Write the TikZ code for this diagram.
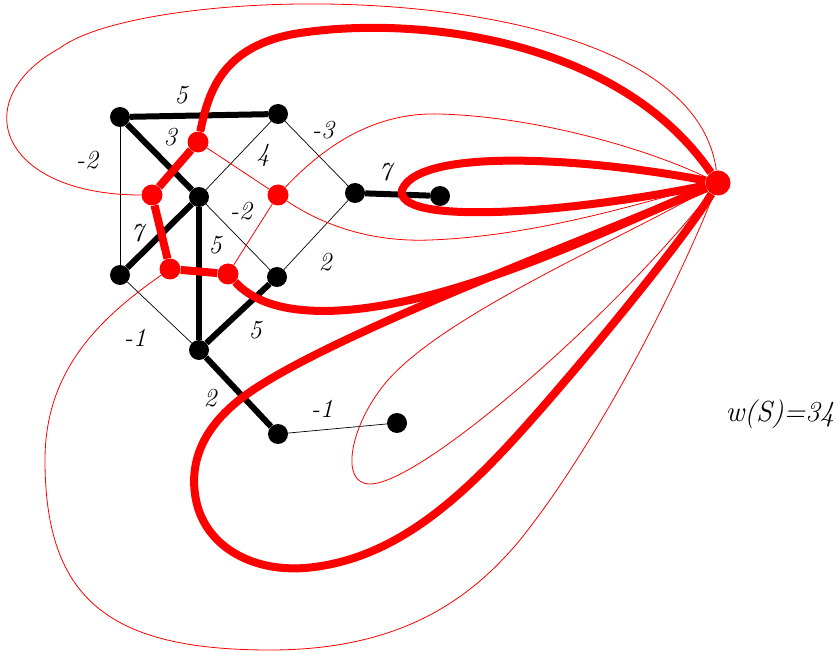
\documentclass[tikz,border=0pt]{standalone}
\usepackage{fontspec}
\begin{document}
\begin{tikzpicture}[x=1pt,y=-1pt,
  bdot/.style={circle,fill=black,inner sep=0pt,minimum size=20pt},
  rdot/.style={circle,fill=red,inner sep=0pt,minimum size=21pt},
  qdot/.style={circle,fill=red,inner sep=0pt,minimum size=25pt},
  bthick/.style={line width=6pt,black},
  bthin/.style={line width=0.7pt,black},
  rthick/.style={line width=8pt,red},
  rthin/.style={line width=0.8pt,red},
  lbl/.style={font=\fontsize{26}{28}\selectfont\itshape,inner sep=0pt}]
\useasboundingbox (0,0) rectangle (838,652);
% primal vertices
\node[bdot] (A) at (120,117) {};
\node[bdot] (B) at (278,114) {};
\node[bdot] (C) at (199,197) {};
\node[bdot] (D) at (355,193) {};
\node[bdot] (E) at (440,196) {};
\node[bdot] (F) at (120,275) {};
\node[bdot] (G) at (277,277) {};
\node[bdot] (H) at (199,350) {};
\node[bdot] (I) at (278,434) {};
\node[bdot] (J) at (397,423) {};
% dual vertices
\node[rdot] (P1) at (198,142) {};
\node[rdot] (P2) at (152,195) {};
\node[rdot] (P3) at (170,269) {};
\node[rdot] (P4) at (228,274) {};
\node[rdot] (P5) at (278,195) {};
\node[qdot] (Q) at (718,183) {};
% primal edges
\draw[bthick] (A) -- (B);
\draw[bthick] (A) -- (C);
\draw[bthin] (A) -- (F);
\draw[bthin] (B) -- (C);
\draw[bthin] (B) -- (D);
\draw[bthick] (D) -- (E);
\draw[bthin] (D) -- (G);
\draw[bthick] (C) -- (F);
\draw[bthin] (C) -- (G);
\draw[bthick] (C) -- (H);
\draw[bthick] (G) -- (H);
\draw[bthin] (F) -- (H);
\draw[bthick] (H) -- (I);
\draw[bthin] (I) -- (J);
% dual edges
\draw[rthick] (P1) -- (P2);
\draw[rthick] (P2) -- (P3);
\draw[rthick] (P3) -- (P4);
\draw[rthin] (P1) -- (P5);
\draw[rthin] (P5) -- (P4);
\draw[rthick] (P1) .. controls (208,95) and (220,45) .. (300,33)
  .. controls (420,15) and (620,40) .. (Q);
\draw[rthin] (P2) .. controls (0,195) and (-35,100) .. (60,48)
  .. controls (150,-20) and (690,-30) .. (Q);
\draw[rthin] (P5) .. controls (330,140) and (380,112) .. (440,114)
  .. controls (540,117) and (650,150) .. (Q);
\draw[rthin] (P5) .. controls (330,230) and (380,242) .. (430,240)
  .. controls (540,236) and (650,200) .. (Q);
\draw[rthick] (Q) .. controls (600,160) and (420,145) .. (402,190)
  .. controls (395,225) and (560,215) .. (Q);
\draw[rthick] (P4) .. controls (265,315) and (330,318) .. (410,300)
  .. controls (520,275) and (640,215) .. (Q);
\draw[rthick] (Q) .. controls (600,235) and (340,330) .. (250,392)
  .. controls (205,423) and (188,460) .. (196,500)
  .. controls (205,545) and (250,572) .. (305,568)
  .. controls (400,560) and (470,490) .. (540,410)
  .. controls (610,330) and (690,230) .. (Q);
\draw[rthin] (Q) .. controls (620,240) and (430,320) .. (380,390)
  .. controls (350,430) and (340,484) .. (370,484)
  .. controls (420,484) and (610,320) .. (Q);
\draw[rthin] (P3) .. controls (100,318) and (45,370) .. (45,460)
  .. controls (45,600) and (110,650) .. (270,650)
  .. controls (400,650) and (470,600) .. (520,540)
  .. controls (600,440) and (680,280) .. (Q);
% labels
\node[lbl] (l1) at (181,95) {5};
\node[lbl] (l2) at (170,137) {3};
\node[lbl] (l3) at (87,160) {-2};
\node[lbl] (l4) at (263,155) {4};
\node[lbl] (l5) at (323,130) {-3};
\node[lbl] (l6) at (385,172) {7};
\node[lbl] (l7) at (241,211) {-2};
\node[lbl] (l8) at (137,233) {7};
\node[lbl] (l9) at (215,245) {5};
\node[lbl] (l10) at (325,262) {2};
\node[lbl] (l11) at (135,338) {-1};
\node[lbl] (l12) at (255,330) {5};
\node[lbl] (l13) at (210,398) {2};
\node[lbl] (l14) at (322,409) {-1};
\node[font=\fontsize{29}{31}\selectfont\itshape,inner sep=0pt] (ws) at (780,414) {w(S)=34};
\end{tikzpicture}
\end{document}
